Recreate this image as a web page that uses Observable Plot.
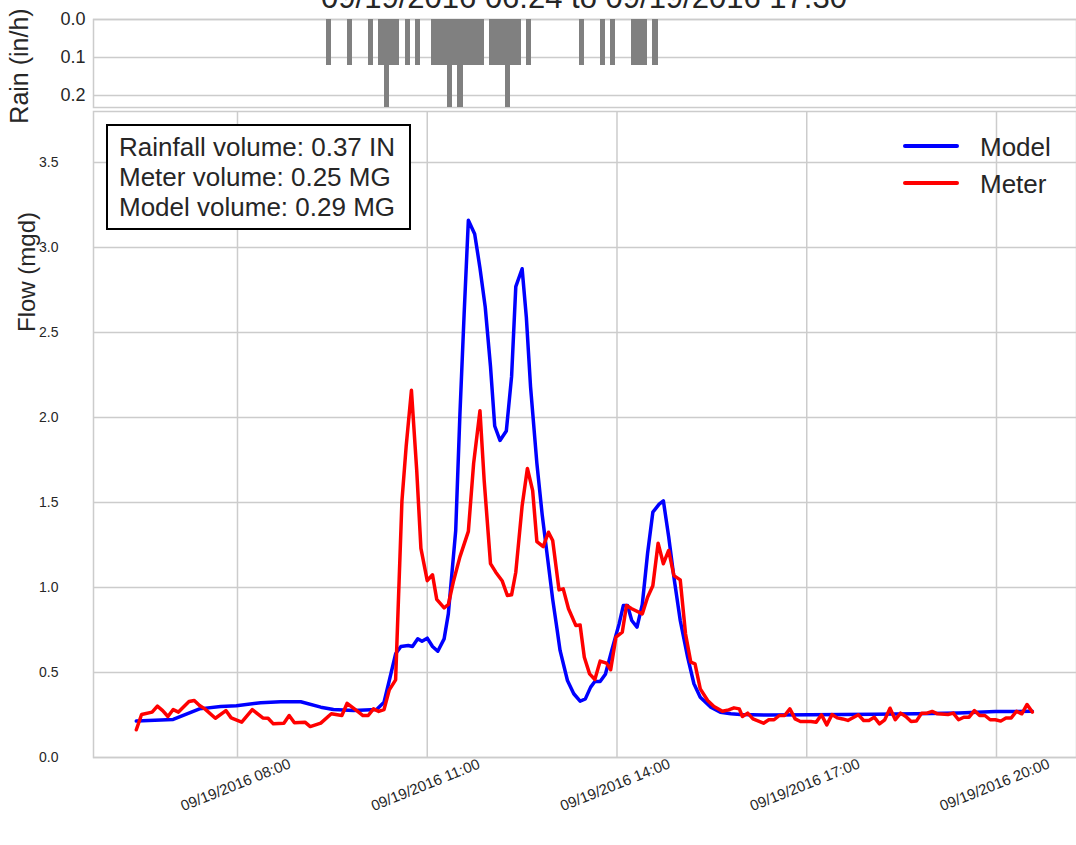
<!DOCTYPE html>
<html><head><meta charset="utf-8">
<script src="https://cdn.jsdelivr.net/npm/d3@7"></script>
<script src="https://cdn.jsdelivr.net/npm/@observablehq/plot@0.6"></script>
<style>
body{margin:0;background:#fff;}
#wrap{position:relative;width:1076px;height:845px;overflow:hidden;background:#fff;font-family:"Liberation Sans",Arial,sans-serif;color:#262626;}
#wrap svg{position:absolute;left:0;}
.abs{position:absolute;white-space:nowrap;}
</style></head><body><div id="wrap"></div>
<script>
// ---- data ----
const startTime = new Date(2016, 8, 19, 6, 24); // 09/19/2016 06:24
const titleText = "09/19/2016 06:24 to 09/19/2016 17:30";
const annotationLines = ["Rainfall volume: 0.37 IN", "Meter volume: 0.25 MG", "Model volume: 0.29 MG"];
const seriesNames = ["Model", "Meter"];
const seriesColors = ["#0000ff", "#ff0000"];

// rain: 5-minute bins, start minute after 06:24, intensity in/h
const rainMinutes = [180,200,220,230,235,240,245,255,265,280,285,290,295,300,305,310,315,320,325,335,340,345,350,355,360,370,420,440,450,470,475,480,490];
const rainValues  = [0.12,0.12,0.12,0.12,0.24,0.12,0.12,0.12,0.12,0.12,0.12,0.12,0.24,0.12,0.24,0.12,0.12,0.12,0.12,0.12,0.12,0.12,0.24,0.12,0.12,0.12,0.12,0.12,0.12,0.12,0.12,0.12,0.12];
const rainTicks = [0, 0.1, 0.2];

// model flow (mgd), minutes after 06:24
const modelMinutes = [0,35,60,80,95,118,137,156,175,187,206,228,235,240,246,251,258,262,267,271,276,281,286,292,296,303,307,311,315,321,326,331,336,340,345,351,356,360,366,370,374,380,385,390,395,399,402,409,415,421,426,431,435,440,445,451,458,462,466,470,475,480,485,490,496,500,505,510,516,523,529,535,545,554,564,573,600,640,700,740,780,815,850];
const modelValues  = [0.214,0.224,0.286,0.30,0.304,0.322,0.328,0.328,0.296,0.282,0.276,0.282,0.325,0.453,0.61,0.653,0.659,0.653,0.698,0.684,0.702,0.653,0.625,0.698,0.845,1.335,2.02,2.61,3.16,3.08,2.88,2.65,2.30,1.95,1.865,1.92,2.24,2.77,2.875,2.59,2.18,1.73,1.43,1.18,0.93,0.76,0.63,0.453,0.375,0.331,0.345,0.414,0.447,0.447,0.49,0.63,0.786,0.894,0.894,0.806,0.767,0.90,1.20,1.443,1.49,1.51,1.30,1.06,0.806,0.59,0.434,0.355,0.296,0.266,0.257,0.253,0.25,0.251,0.255,0.257,0.262,0.27,0.272];

// meter flow (mgd), minutes after 06:24
const meterMinutes = [0,5,15,20,25,30,35,40,50,55,60,65,75,85,90,100,110,120,125,130,140,145,150,160,165,175,185,195,200,210,215,220,225,230,235,240,246,252,256,261,266,270,276,281,285,292,296,301,307,315,320,326,330,336,341,347,352,356,360,366,371,376,380,386,391,395,401,405,410,417,421,425,430,435,440,446,450,455,461,465,470,480,485,490,495,500,505,510,516,521,526,530,535,542,548,556,562,567,572,575,580,585,595,600,605,610,615,620,625,630,640,645,650,655,660,665,670,675,685,690,695,700,705,710,715,720,725,730,735,740,745,750,755,760,770,775,780,785,790,795,800,805,810,815,820,825,830,835,840,845,850];
const meterValues  = [0.163,0.253,0.267,0.302,0.276,0.241,0.282,0.267,0.329,0.335,0.306,0.286,0.231,0.276,0.233,0.208,0.282,0.233,0.231,0.198,0.202,0.247,0.204,0.208,0.182,0.202,0.257,0.247,0.319,0.271,0.247,0.247,0.286,0.271,0.282,0.398,0.457,1.51,1.83,2.16,1.69,1.23,1.04,1.075,0.93,0.88,0.90,1.04,1.18,1.33,1.73,2.04,1.63,1.14,1.09,1.04,0.953,0.957,1.09,1.48,1.70,1.57,1.27,1.24,1.325,1.276,0.986,0.992,0.875,0.776,0.78,0.59,0.492,0.459,0.567,0.555,0.516,0.708,0.737,0.894,0.875,0.845,0.943,1.01,1.26,1.14,1.218,1.07,1.045,0.728,0.561,0.551,0.404,0.335,0.30,0.272,0.28,0.292,0.286,0.241,0.261,0.227,0.202,0.222,0.222,0.247,0.247,0.286,0.227,0.212,0.212,0.208,0.251,0.192,0.253,0.233,0.227,0.218,0.251,0.218,0.218,0.237,0.198,0.222,0.29,0.222,0.261,0.241,0.212,0.214,0.261,0.261,0.271,0.257,0.253,0.261,0.222,0.237,0.237,0.276,0.247,0.247,0.222,0.222,0.214,0.233,0.233,0.272,0.257,0.312,0.267];

const flowTicks = [0, 0.5, 1.0, 1.5, 2.0, 2.5, 3.0, 3.5];
const xTickHours = [8, 11, 14, 17, 20];

// ---- build ----
const at = m => new Date(startTime.getTime() + m * 60000);
const rain = rainMinutes.map((m, i) => ({t0: at(m), t1: at(m + 5), v: rainValues[i]}));
const model = modelMinutes.map((m, i) => ({t: at(m), v: modelValues[i]}));
const meter = meterMinutes.map((m, i) => ({t: at(m), v: meterValues[i]}));
const xTicks = xTickHours.map(h => new Date(2016, 8, 19, h, 0));
const xDomain = [new Date(2016, 8, 19, 5, 43, 24), new Date(2016, 8, 19, 21, 15, 54)];
const fmt = d3.timeFormat("%m/%d/%Y %H:%M");
const font = '"Liberation Sans", Arial, sans-serif';
const grid = "#cccccc";
const wrap = document.getElementById("wrap");

const rainPlot = Plot.plot({
  width: 1076, height: 109, marginLeft: 93, marginRight: 0, marginTop: 19, marginBottom: 2,
  style: {fontFamily: font, color: "#262626", background: "transparent", overflow: "visible"},
  x: {type: "time", domain: xDomain, axis: null},
  y: {domain: [0, 0.2316], reverse: true},
  marks: [
    Plot.ruleY(rainTicks, {stroke: grid, strokeWidth: 1.5}),
    Plot.frame({stroke: grid, strokeWidth: 1.5}),
    Plot.rect(rain, {x1: "t0", x2: "t1", y1: 0, y2: "v", fill: "#808080", clip: true, shapeRendering: "crispEdges"}),
    Plot.axisY(rainTicks, {tickSize: 0, tickPadding: 8, tickFormat: d3.format(".1f"), fontSize: 18, label: null, fill: "#262626"})
  ]
});
rainPlot.style.top = "0px";

const flowPlot = Plot.plot({
  width: 1076, height: 736, marginLeft: 93, marginRight: 0, marginTop: 2, marginBottom: 88,
  style: {fontFamily: font, color: "#262626", background: "transparent", overflow: "visible"},
  x: {type: "time", domain: xDomain, axis: null},
  y: {domain: [0, 3.8]},
  marks: [
    Plot.ruleY(flowTicks, {stroke: grid, strokeWidth: 1.5}),
    Plot.ruleX(xTicks, {stroke: grid, strokeWidth: 1.5}),
    Plot.frame({stroke: grid, strokeWidth: 1.5}),
    Plot.line(model, {x: "t", y: "v", stroke: seriesColors[0], strokeWidth: 3.5}),
    Plot.line(meter, {x: "t", y: "v", stroke: seriesColors[1], strokeWidth: 3.5}),
    Plot.axisY(flowTicks, {tickSize: 0, tickPadding: 35, tickFormat: d3.format(".1f"), fontSize: 14, label: null, fill: "#262626"}),
    Plot.text(xTicks, {x: d => d, frameAnchor: "bottom", dy: 32, rotate: -22, text: d => fmt(d), fontSize: 15, fill: "#262626", textAnchor: "middle"})
  ]
});
flowPlot.style.top = "109px";

wrap.appendChild(flowPlot);
wrap.appendChild(rainPlot);

function addDiv(text, css) {
  const d = document.createElement("div");
  d.className = "abs";
  d.textContent = text;
  Object.assign(d.style, css);
  wrap.appendChild(d);
  return d;
}
// title (cut at the top edge, as in the reference)
addDiv(titleText, {left: "584px", top: "-18px", fontSize: "31px", lineHeight: "31px", transform: "translateX(-50%)"});
// axis labels
addDiv("Rain (in/h)", {left: "19px", top: "66px", fontSize: "25px", lineHeight: "25px", transform: "translate(-50%,-50%) rotate(-90deg)"});
addDiv("Flow (mgd)", {left: "27px", top: "272px", fontSize: "24px", lineHeight: "24px", transform: "translate(-50%,-50%) rotate(-90deg)"});
// annotation box
const box = document.createElement("div");
box.className = "abs";
Object.assign(box.style, {left: "106px", top: "124px", border: "2px solid #000", background: "#fff", padding: "6px 14px 6px 11px", fontSize: "26px", lineHeight: "30px", color: "#262626"});
annotationLines.forEach(t => { const l = document.createElement("div"); l.textContent = t; box.appendChild(l); });
wrap.appendChild(box);
// legend
const legendY = [146, 183];
seriesNames.forEach((name, i) => {
  const ln = document.createElement("div");
  ln.className = "abs";
  Object.assign(ln.style, {left: "903px", top: (legendY[i] - 1.75) + "px", width: "56px", height: "3.5px", background: seriesColors[i], borderRadius: "2px"});
  wrap.appendChild(ln);
  addDiv(name, {left: "980px", top: (legendY[i] - 14) + "px", fontSize: "26px", lineHeight: "30px"});
});
</script></body></html>
